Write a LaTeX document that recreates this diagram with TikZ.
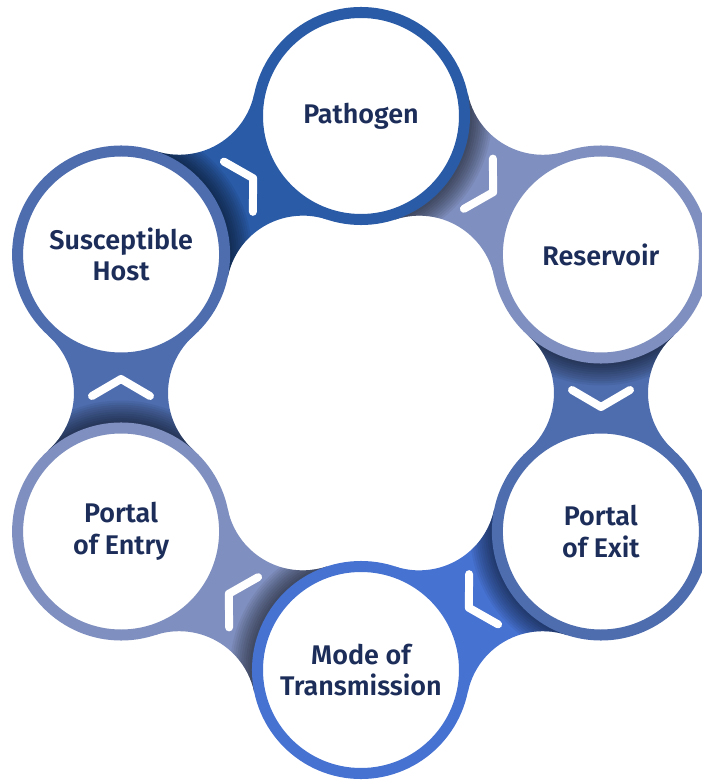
\documentclass[tikz,border=0pt]{standalone}
\usepackage{fontspec}
\setmainfont{Fira Sans}[BoldFont={Fira Sans SemiBold}]

\definecolor{pathblue}{HTML}{2A5BA7}
\definecolor{greyblue}{HTML}{7F8FBF}
\definecolor{midblue}{HTML}{4E6DAF}
\definecolor{brightblue}{HTML}{4672D2}
\definecolor{navy}{HTML}{1C2D59}

% bridge between two neighbouring rings, drawn with its middle on the x axis
\newcommand{\linkpath}{(240,138.5) -- (312.6,57.2) arc[start angle=131.8,end angle=228.2,radius=76.7]
  -- (240,-138.5) -- (167.4,-57.2) arc[start angle=-48.2,end angle=48.2,radius=76.7] -- cycle}

\begin{document}
\begin{tikzpicture}[scale=0.03,
stage/.style={circle,draw=#1,line width=9.4pt,fill=white,minimum size=176.7pt,inner sep=0pt,
  text=navy,font=\fontsize{23}{27}\selectfont\bfseries,align=center},
chev/.style={white,line width=6.8pt,line cap=round,line join=round}]
\useasboundingbox (-361,-387) rectangle (341,393);
\clip (-361,-387) rectangle (341,393);

% bridges
\foreach \a/\col in {60/greyblue,0/midblue,-60/brightblue,-120/greyblue,180/midblue,120/pathblue}
  \fill[\col,rotate=\a] \linkpath;

% shadow of each ring on the next bridge
\foreach \a in {60,0,-60,-120,180,120}{
  \begin{scope}[rotate=\a]
    \clip \linkpath;
    \foreach \k in {1,...,10}
      \fill[black,opacity=0.06] (240,138.5) circle ({109+2.2*\k});
  \end{scope}
}

\node[stage=pathblue] (patho) at (90:277) {Pathogen};
\node[stage=greyblue] (reserv) at (30:277) {Reservoir};
\node[stage=midblue] (exitp) at (-30:277) {Portal\\of Exit};
\node[stage=brightblue] (mode) at (-90:277) {Mode of\\Transmission};
\node[stage=greyblue] (entryp) at (-150:277) {Portal\\of Entry};
\node[stage=midblue] (host) at (150:277) {Susceptible\\Host};

% chevrons
\foreach \a in {60,0,-60,-120,180,120}
  \draw[chev,rotate=\a] (211,3) -- (240,-14) -- (269,3);
\end{tikzpicture}
\end{document}
